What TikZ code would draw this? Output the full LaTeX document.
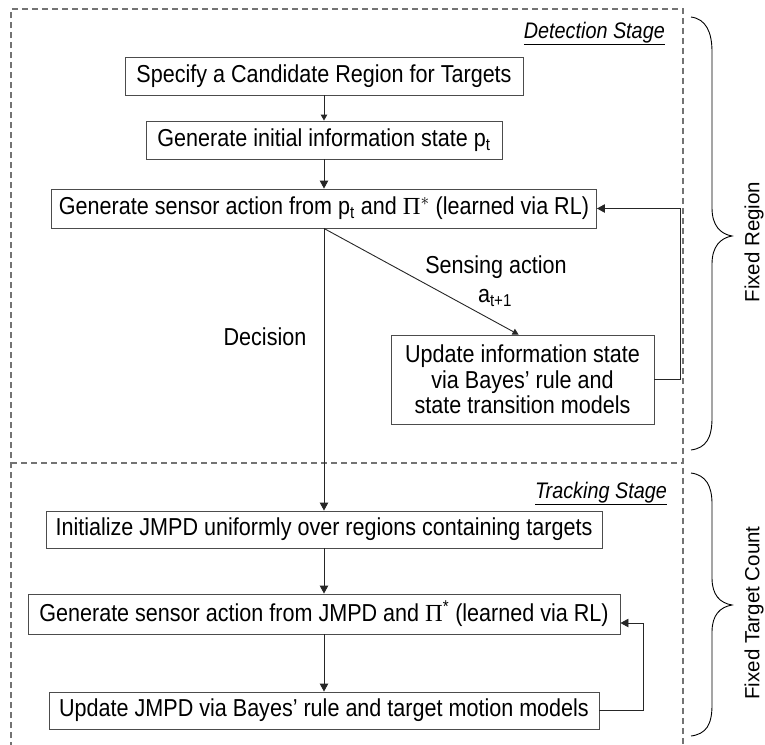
\documentclass[tikz,border=0pt]{standalone}
\usepackage{fontspec}
\setmainfont{Liberation Sans}
\newfontfamily\narrowfont{Liberation Sans}[FakeStretch=0.88]
\newfontfamily\greekfont{Liberation Serif}
\usetikzlibrary{arrows.meta,calc}

\newcommand\boxfont{\narrowfont\fontsize{24.5}{25.5}\selectfont}
\newcommand\tagfont{\narrowfont\fontsize{22.5}{24}\selectfont\itshape}
\newcommand\lowix[1]{\textsubscript{#1}}
\newcommand\Pistar{{\greekfont Π}$^{*}$}
\newcommand\Pistarb{{\greekfont Π}\textsuperscript{*}}

\tikzset{
  flowbox/.style={draw=black!70, line width=0.9pt, inner sep=0pt, align=center, font=\boxfont},
  conn/.style={draw=black!85, line width=0.9pt},
  arr/.style={conn, -{Triangle[length=8pt,width=8.5pt]}},
  arrs/.style={conn, -{Triangle[length=6pt,width=6.5pt]}},
  stagebox/.style={draw=black!55, line width=1.1pt, dash pattern=on 6pt off 4pt},
  lbl/.style={font=\boxfont, inner sep=0pt},
  stagetag/.style={font=\tagfont, inner sep=0pt, anchor=base east},
  sidelbl/.style={font=\fontsize{20.5}{24}\selectfont, rotate=90, inner sep=0pt},
  brace/.style={draw=black, line width=0.9pt}
}

\begin{document}
\begin{tikzpicture}[x=1pt,y=-1pt]
\useasboundingbox (0,0) rectangle (765,744);

% dashed stage frames
\draw[stagebox] (11,748) -- (11,9) -- (683,9) -- (683,748);
\draw[stagebox] (11,463) -- (683,463);

\node[stagetag] (tdet) at (665,38) {\underline{Detection Stage}};
\node[stagetag] (ttrk) at (667,498) {\underline{Tracking Stage}};

% detection stage
\node[flowbox, minimum width=398pt, minimum height=38pt] (b1) at (324,76)
  {Specify a Candidate Region for Targets};
\node[flowbox, minimum width=356pt, minimum height=38pt] (b2) at (324,140)
  {Generate initial information state p\lowix{t}};
\node[flowbox, minimum width=545pt, minimum height=39pt] (b3) at (324,208.5)
  {Generate sensor action from p\lowix{t} and \Pistar{} (learned via RL)};
\node[flowbox, minimum width=263pt, minimum height=89pt] (b4) at (522.5,379.5)
  {Update information state\\via Bayes’ rule and\\state transition models};

% tracking stage
\node[flowbox, minimum width=556pt, minimum height=37pt] (b5) at (324,529.5)
  {Initialize JMPD uniformly over regions containing targets};
\node[flowbox, minimum width=592pt, minimum height=40pt] (b6) at (324,614)
  {Generate sensor action from JMPD and \Pistarb{} (learned via RL)};
\node[flowbox, minimum width=550pt, minimum height=37pt] (b7) at (324,710.5)
  {Update JMPD via Bayes’ rule and target motion models};

% connectors
\draw[arrs] (b1.south) -- (b2.north);
\draw[arr] (b2.south) -- (b3.north);
\coordinate (hit) at ($(b4.north west)+(128,0)$);
\draw[arrs] (b3.south) -- (hit);
\draw[arr] (b4.east) -- ++(26,0) |- (b3.east);
\draw[arr] (b3.south) -- (b5.north);
\draw[arr] (b5.south) -- (b6.north);
\draw[arr] (b6.south) -- (b7.north);
\draw[arr] (b7.east) -- ++(44,0) |- ($(b6.east)+(0,9)$);

\node[lbl] (ldec) at (265,337) {Decision};
\node[lbl] (lsen) at (496,267) {Sensing action};
\node[lbl] (lact) at (495,298) {a\lowix{t+1}};

% braces
\draw[brace] (691,17) .. controls (706,19) and (712,32) .. (712,52)
  -- (712,208) .. controls (712,225) and (720,234) .. (732,236)
  .. controls (720,238) and (712,247) .. (712,264)
  -- (712,418) .. controls (712,438) and (706,448) .. (691,450);
\draw[brace] (691,473) .. controls (706,475) and (712,486) .. (712,504)
  -- (712,578) .. controls (712,595) and (720,603) .. (732,605)
  .. controls (720,607) and (712,615) .. (712,632)
  -- (712,705) .. controls (712,725) and (706,734) .. (691,736);

\node[sidelbl] (sreg) at (754,242) {Fixed Region};
\node[sidelbl] (scnt) at (754,613) {Fixed Target Count};
\end{tikzpicture}
\end{document}
